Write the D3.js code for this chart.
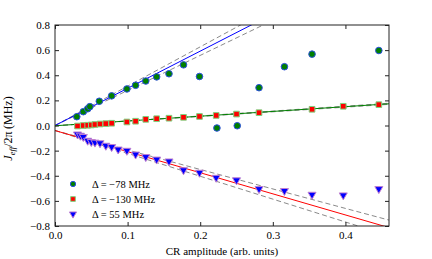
<!DOCTYPE html>
<html>
<head>
<meta charset="utf-8">
<script src="https://cdn.jsdelivr.net/npm/d3@7"></script>
<style>
  body { margin: 0; background: #fff; }
  text { font-family: "Liberation Serif", "DejaVu Serif", serif; fill: #000; }
</style>
</head>
<body>
<script>
// data
var circX = [0.030, 0.039, 0.045, 0.048, 0.061, 0.078, 0.099, 0.111, 0.125,
    0.140, 0.157, 0.177, 0.199, 0.223, 0.251, 0.281, 0.316, 0.354, 0.446];
var circY = [0.070, 0.110, 0.133, 0.150, 0.193, 0.236, 0.291, 0.320, 0.354,
    0.387, 0.412, 0.483, 0.390, -0.020, -0.002, 0.301, 0.468, 0.568, 0.597];

var sqX = [0.031, 0.039, 0.045, 0.050, 0.055, 0.062, 0.070, 0.078, 0.099,
    0.111, 0.125, 0.140, 0.157, 0.177, 0.199, 0.222, 0.250, 0.281, 0.354,
    0.397, 0.446];
var sqY = [-0.004, 0.000, 0.002, 0.004, 0.008, 0.012, 0.015, 0.018, 0.028,
    0.034, 0.049, 0.054, 0.058, 0.065, 0.072, 0.080, 0.091, 0.102, 0.129,
    0.153, 0.166];

var triX = [0.031, 0.035, 0.039, 0.045, 0.050, 0.055, 0.062, 0.070, 0.078,
    0.087, 0.099, 0.111, 0.125, 0.140, 0.157, 0.177, 0.199, 0.222, 0.250,
    0.281, 0.316, 0.354, 0.397, 0.446];
var triY = [-0.070, -0.080, -0.090, -0.120, -0.130, -0.135, -0.140, -0.160,
    -0.170, -0.190, -0.200, -0.230, -0.250, -0.270, -0.285, -0.355, -0.375,
    -0.415, -0.435, -0.505, -0.520, -0.550, -0.555, -0.505];

// linear fits (slope, intercept) and dashed bands
var fitSlope = [2.96, 0.38, -1.68];
var fitIcpt = [0.0, -0.002, -0.04];
var bandSlope = [[3.13, 2.79], [0.39, 0.37], [-1.55, -1.82]];

var legendLabels = ["\u0394 = \u221278 MHz", "\u0394 = \u2212130 MHz",
    "\u0394 = 55 MHz"];
var xTicks = [0.0, 0.1, 0.2, 0.3, 0.4];
var yTicks = [-0.8, -0.6, -0.4, -0.2, 0.0, 0.2, 0.4, 0.6, 0.8];

var margin = {top: 25, right: 43, bottom: 33, left: 55},
    width = 432 - margin.left - margin.right,
    height = 259 - margin.top - margin.bottom;

var svg = d3.select("body").append("svg")
    .attr("width", 432)
    .attr("height", 259)
    .append("g")
    .attr("transform", "translate(" + margin.left + "," + margin.top + ")");

var x = d3.scaleLinear().domain([0, 0.46]).range([0, width]);
var y = d3.scaleLinear().domain([-0.8, 0.8]).range([height, 0]);

svg.append("clipPath").attr("id", "clip")
    .append("rect").attr("width", width).attr("height", height);

var plot = svg.append("g").attr("clip-path", "url(#clip)");
var lineColors = ["#0000ff", "#008000", "#ff0000"];

// dashed bands first, fit lines over them
fitSlope.forEach(function(s, i) {
    bandSlope[i].forEach(function(bs) {
        plot.append("line")
            .attr("x1", x(0)).attr("y1", y(fitIcpt[i]))
            .attr("x2", x(0.46)).attr("y2", y(fitIcpt[i] + bs * 0.46))
            .style("stroke", "#8a8a8a")
            .style("stroke-width", 1)
            .style("stroke-dasharray", "5,3");
    });
    plot.append("line")
        .attr("x1", x(0)).attr("y1", y(fitIcpt[i]))
        .attr("x2", x(0.46)).attr("y2", y(fitIcpt[i] + s * 0.46))
        .style("stroke", lineColors[i])
        .style("stroke-width", 1);
});

var sym = {
    circle: d3.symbol().type(d3.symbolCircle),
    square: d3.symbol().type(d3.symbolSquare),
    tri: d3.symbol().type(d3.symbolTriangle)
};

function drawMarkers(g, xs, ys, kind, size, fill, edge) {
    g.selectAll(null)
        .data(xs)
        .enter()
        .append("path")
        .attr("d", sym[kind].size(size))
        .attr("transform", function(d, i) {
            return "translate(" + x(d) + "," + y(ys[i]) + ")" +
                (kind == "tri" ? " rotate(180)" : "");
        })
        .style("fill", fill)
        .style("stroke", edge)
        .style("stroke-width", 1);
}

var marks = svg.append("g");
drawMarkers(marks, sqX, sqY, "square", 32, "#ff0000", "#7fd27f");
drawMarkers(marks, triX, triY, "tri", 28, "#0000ff", "#c07fd0");
drawMarkers(marks, circX, circY, "circle", 34, "#007f00", "#2a4fe0");

// axes, ticks pointing inward on all four sides
var axB = svg.append("g").attr("transform", "translate(0," + height + ")")
    .call(d3.axisBottom(x).tickValues(xTicks).tickSize(-4).tickPadding(5)
        .tickFormat(d3.format(".1f")));
var axT = svg.append("g")
    .call(d3.axisTop(x).tickValues(xTicks).tickSize(-4).tickFormat(""));
var axL = svg.append("g")
    .call(d3.axisLeft(y).tickValues(yTicks).tickSize(-4).tickPadding(5)
        .tickFormat(function(d) {
            return d3.format(".1f")(d).replace("-", "\u2212");
        }));
var axR = svg.append("g").attr("transform", "translate(" + width + ",0)")
    .call(d3.axisRight(y).tickValues(yTicks).tickSize(-4).tickFormat(""));

[axB, axT, axL, axR].forEach(function(a) {
    a.select(".domain").remove();
    a.selectAll("line").style("stroke", "#222");
    a.selectAll("text")
        .style("font-family", "'Liberation Serif', serif")
        .style("font-size", "11px")
        .attr("fill", "#000");
});

svg.append("rect")
    .attr("width", width).attr("height", height)
    .style("fill", "none")
    .style("stroke", "#222")
    .style("stroke-width", 1);

// legend
var legKinds = ["circle", "square", "tri"];
var legFill = ["#007f00", "#ff0000", "#0000ff"];
var legEdge = ["#2a4fe0", "#7fd27f", "#c07fd0"];
legendLabels.forEach(function(lbl, i) {
    var ly = 159 + i * 15;
    svg.append("path")
        .attr("d", sym[legKinds[i]].size(22))
        .attr("transform", "translate(18," + ly + ")" +
            (legKinds[i] == "tri" ? " rotate(180)" : ""))
        .style("fill", legFill[i])
        .style("stroke", legEdge[i])
        .style("stroke-width", 1);
    svg.append("text")
        .attr("x", 37)
        .attr("y", ly + 3.5)
        .style("font-size", "10.5px")
        .text(lbl);
});

// axis labels
svg.append("text")
    .attr("x", width / 2)
    .attr("y", height + 29)
    .attr("text-anchor", "middle")
    .style("font-size", "11px")
    .text("CR amplitude (arb. units)");

var yl = svg.append("text")
    .attr("transform", "translate(-43," + (height / 2 + 3) + ") rotate(-90)")
    .attr("text-anchor", "middle")
    .style("font-size", "12px");
yl.append("tspan").style("font-style", "italic").text("J");
yl.append("tspan").style("font-style", "italic").style("font-size", "8.5px")
    .attr("dy", 3).text("eff");
yl.append("tspan").attr("dy", -3).text("/2\u03c0\u2009(MHz)");
</script>
</body>
</html>
